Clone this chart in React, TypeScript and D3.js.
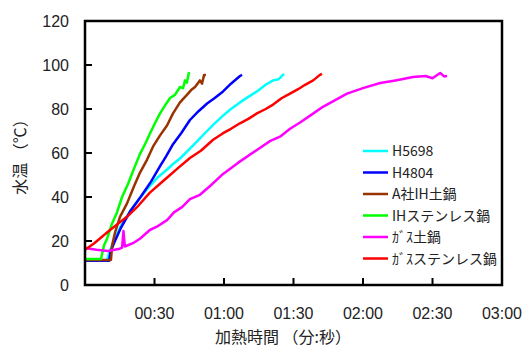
import { useEffect, useRef } from "react";
import * as d3 from "d3";

// [seconds, °C]
const h5698 = [[0, 11], [9.5, 11], [10.5, 15], [12.5, 20], [15.5, 27], [19.8, 34], [24, 40], [28, 45], [31.5, 49], [35.4, 52.5], [38, 55], [41, 57.5], [45.3, 62], [49, 66], [52.7, 70], [56, 73.5], [59.6, 77], [63, 80], [66.9, 83], [70.5, 85.5], [74.2, 88], [78, 91], [81.2, 93], [83.5, 93.5], [85.9, 96]];
const h4804 = [[0, 11], [10.4, 11], [11, 15], [12.5, 19], [15.5, 26], [19.8, 34], [24, 40], [28.5, 47], [32.4, 54], [35, 58.5], [38, 64], [41.5, 69], [45.3, 75], [49, 79], [52.7, 82.5], [56, 85], [59.6, 88], [63, 91.5], [66.9, 95], [67.8, 95.5]];
const aIhDonabe = [[0, 11.4], [11.2, 11.4], [11.7, 18], [13, 24], [15.1, 31], [18.1, 37], [21.2, 45], [23.7, 51], [26.8, 57], [29.4, 63], [32.4, 68], [35.4, 72.5], [38, 78], [41, 83], [43.6, 86], [45.8, 88.6], [47.5, 90], [49.6, 93], [50.5, 91.5], [51.4, 95.5], [52.2, 95.5]];
const ihStainless = [[0, 11.8], [6.9, 11.8], [8.2, 18], [9.5, 21], [11.7, 28], [13.8, 33], [16, 40], [18.6, 46], [21.2, 53], [23.7, 59.5], [25.9, 64], [28.1, 69], [30.2, 73.5], [32.4, 78], [34.5, 81.5], [36.7, 85], [38.9, 86.5], [41, 90], [42.3, 89.5], [43.2, 93], [44, 92], [44.9, 96.8]];
const gasDonabe = [[0, 16.8], [5, 16], [10, 15.5], [15, 16.5], [16, 17], [16.6, 24.5], [17.2, 17.5], [20.7, 19], [23.7, 21], [28, 25], [31, 26.5], [35.4, 29.5], [38.4, 33], [42, 35.5], [45.3, 39], [49.6, 41], [54, 45], [59.6, 50.5], [66, 55.5], [74.2, 61.4], [80, 65.5], [84.2, 67.4], [88.5, 71], [93, 74], [98.6, 78], [102.7, 81], [108, 84], [113.1, 87], [120, 89.5], [127.4, 91.8], [134, 93], [141.6, 94.5], [147, 95], [150, 94], [153.3, 96.4], [155, 94.8], [156.3, 95]];
const gasStainless = [[0, 16], [4, 19], [10.8, 25], [18.1, 31], [23, 36], [28, 42], [34, 47.5], [40, 53], [45.3, 57.7], [50, 61], [55.3, 66], [59.6, 69], [63, 71], [66.9, 73.5], [70.5, 75.5], [74.2, 78], [78, 80], [81.2, 82], [85, 85], [88.5, 87], [92, 89], [95, 91], [98.5, 93], [101.4, 95.5], [102.3, 96]];

const seriesNames = ["H5698", "H4804", "A社IH土鍋", "IHステンレス鍋", "ｶﾞｽ土鍋", "ｶﾞｽステンレス鍋"];
const seriesData = [h5698, h4804, aIhDonabe, ihStainless, gasDonabe, gasStainless];
const seriesColors = ["#00ffff", "#0000ff", "#993300", "#00ff00", "#ff00ff", "#ff0000"];

const xTicks = [30, 60, 90, 120, 150, 180];
const yTicks = [0, 20, 40, 60, 80, 100, 120];

const numFont = "'Liberation Sans', Arial, sans-serif";
const jpFont = "'Noto Sans CJK JP', 'Liberation Sans', sans-serif";

function fmtTime(s: number) {
    const m = Math.floor(s / 60);
    const sec = s % 60;
    return String(m).padStart(2, "0") + ":" + String(sec).padStart(2, "0");
}

export default function App() {
    const ref = useRef<SVGSVGElement>(null);

    useEffect(() => {
        const svg = d3.select(ref.current);
        svg.selectAll("*").remove();

        const left = 85, right = 502, top = 21, bottom = 285;

        const x = d3.scaleLinear().domain([0, 180]).range([left, right]);
        const y = d3.scaleLinear().domain([0, 120]).range([bottom, top]);

        // data lines
        const line = d3.line<number[]>()
            .x(d => x(d[0]))
            .y(d => y(d[1]));

        seriesData.forEach((data, i) => {
            svg.append("path")
                .datum(data)
                .attr("fill", "none")
                .attr("stroke", seriesColors[i])
                .attr("stroke-width", 2.5)
                .attr("stroke-linejoin", "round")
                .attr("d", line);
        });

        // inward ticks
        svg.append("g")
            .selectAll("line.xt")
            .data(xTicks.slice(0, -1))
            .join("line")
            .attr("x1", d => x(d)).attr("x2", d => x(d))
            .attr("y1", bottom).attr("y2", bottom - 7)
            .attr("stroke", "black").attr("stroke-width", 2);

        svg.append("g")
            .selectAll("line.yt")
            .data(yTicks.slice(1, -1))
            .join("line")
            .attr("x1", left).attr("x2", left + 7)
            .attr("y1", d => y(d)).attr("y2", d => y(d))
            .attr("stroke", "black").attr("stroke-width", 2);

        // frame
        svg.append("rect")
            .attr("x", left).attr("y", top)
            .attr("width", right - left).attr("height", bottom - top)
            .attr("fill", "none")
            .attr("stroke", "black")
            .attr("stroke-width", 2.5);

        // tick labels
        svg.append("g")
            .selectAll("text")
            .data(yTicks)
            .join("text")
            .attr("x", 69)
            .attr("y", d => y(d) + 6)
            .attr("text-anchor", "end")
            .attr("font-family", numFont)
            .attr("font-size", 16)
            .attr("fill", "#222")
            .text(d => d);

        svg.append("g")
            .selectAll("text")
            .data(xTicks)
            .join("text")
            .attr("x", d => x(d))
            .attr("y", 319)
            .attr("text-anchor", "middle")
            .attr("font-family", numFont)
            .attr("font-size", 16)
            .attr("fill", "#222")
            .text(d => fmtTime(d));

        // axis titles
        svg.append("text")
            .attr("x", 283)
            .attr("y", 343)
            .attr("text-anchor", "middle")
            .attr("font-family", jpFont)
            .attr("font-size", 16)
            .attr("fill", "#222")
            .text("加熱時間 （分:秒）");

        svg.append("text")
            .attr("transform", "translate(26,153) rotate(-90)")
            .attr("text-anchor", "middle")
            .attr("font-family", jpFont)
            .attr("font-size", 16)
            .attr("fill", "#222")
            .text("水温 （℃）");

        // legend
        const legend = svg.append("g");
        seriesNames.forEach((name, i) => {
            const ly = 151 + i * 21.5;
            legend.append("line")
                .attr("x1", 363).attr("x2", 388)
                .attr("y1", ly).attr("y2", ly)
                .attr("stroke", seriesColors[i])
                .attr("stroke-width", 2.5);
            legend.append("text")
                .attr("x", 392)
                .attr("y", ly + 5)
                .attr("font-family", jpFont)
                .attr("font-size", 14)
                .attr("fill", "#222")
                .text(name);
        });
    }, []);

    return (
        <svg ref={ref} width={526} height={352}
            style={{ position: "absolute", left: 0, top: 0, background: "white" }}></svg>
    );
}
